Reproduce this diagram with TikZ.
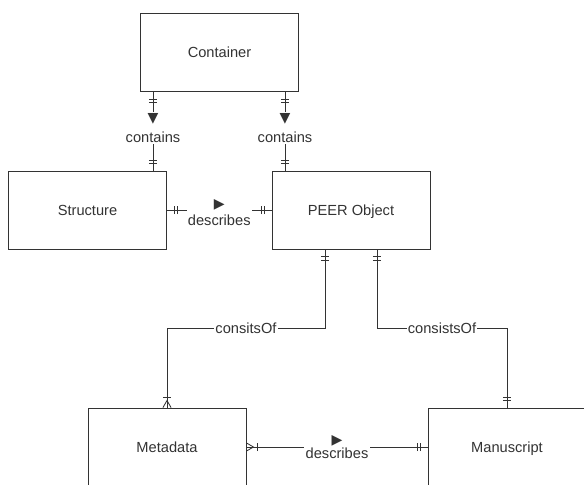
\documentclass[tikz,border=0pt]{standalone}
\usepackage{fontspec}
\setmainfont{Liberation Sans}
\newfontfamily\symbfont{DejaVu Sans}
\usetikzlibrary{positioning,calc,decorations.markings}

\tikzset{
  erbar/.style={draw=black!80, line width=0.7pt},
  % one (mandatory) at start / end
  oneS/.style={postaction={decorate,decoration={markings,
    mark=at position 6pt with {\draw[erbar] (0,-3.5pt)--(0,3.5pt);},
    mark=at position 9pt with {\draw[erbar] (0,-3.5pt)--(0,3.5pt);}}}},
  oneE/.style={postaction={decorate,decoration={markings,
    mark=at position -6pt with {\draw[erbar] (0,-3.5pt)--(0,3.5pt);},
    mark=at position -9pt with {\draw[erbar] (0,-3.5pt)--(0,3.5pt);}}}},
  % one or many at start / end
  manyS/.style={postaction={decorate,decoration={markings,
    mark=at position 6pt with {\draw[erbar] (-6pt,3.5pt)--(0,0)--(-6pt,-3.5pt);},
    mark=at position 9pt with {\draw[erbar] (0,-3.5pt)--(0,3.5pt);}}}},
  manyE/.style={postaction={decorate,decoration={markings,
    mark=at position -6pt with {\draw[erbar] (6pt,3.5pt)--(0,0)--(6pt,-3.5pt);},
    mark=at position -9pt with {\draw[erbar] (0,-3.5pt)--(0,3.5pt);}}}},
}
\newcommand{\dirdown}{{\symbfont\fontsize{12}{12}\selectfont ▼}}
\newcommand{\dirright}{{\symbfont\fontsize{12}{12}\selectfont ▶}}

\begin{document}
\begin{tikzpicture}
[
x=0.03cm, y=-0.03cm,
entity/.style={rectangle, draw=black!80, line width=0.7pt, minimum width=4.74cm, minimum height=2.34cm, inner sep=0pt, text height=9pt, text depth=0pt, text=black!80, font=\fontsize{12.5}{15}\selectfont},
rel/.style={draw=black!80, line width=0.8pt},
rlabel/.style={fill=white, inner sep=1pt, text=black!80, font=\fontsize{12.5}{15}\selectfont, align=center}
]
\useasboundingbox (0,0) rectangle (584,485);
%Entities
\node[entity] at(219.5,52.5)	(cont) {Container};
\node[entity] at(87.5,210)	(struct) {Structure};
\node[entity] at(351,210)	(peer) {PEER Object};
\node[entity] at(167,447)	(meta) {Metadata};
\node[entity] at(507,447)	(man) {Manuscript};
%Relationships
\draw[rel,oneS,oneE] ($(cont.south)+(-66.5,0)$) coordinate (c1) -- node[rlabel,pos=0.46]{\dirdown\\[2pt]contains} (c1 |- struct.north);
\draw[rel,oneS,oneE] ($(cont.south)+(65.5,0)$) coordinate (c2) -- node[rlabel,pos=0.46]{\dirdown\\[2pt]contains} (c2 |- peer.north);
\draw[rel,oneS,oneE] (struct) -- node[rlabel,yshift=-2pt]{\dirright\\[0pt]describes} (peer);
\draw[rel,oneS,manyE] ($(peer.south)+(-26,0)$) -- ++(0,79) -| node[rlabel,pos=0.25]{consitsOf} (meta.north);
\draw[rel,oneS,oneE] ($(peer.south)+(26,0)$) -- ++(0,79) -| node[rlabel,pos=0.25]{consistsOf} (man.north);
\draw[rel,manyS,oneE] (meta) -- node[rlabel]{\dirright\\[-3pt]describes} (man);
\end{tikzpicture}
\end{document}
